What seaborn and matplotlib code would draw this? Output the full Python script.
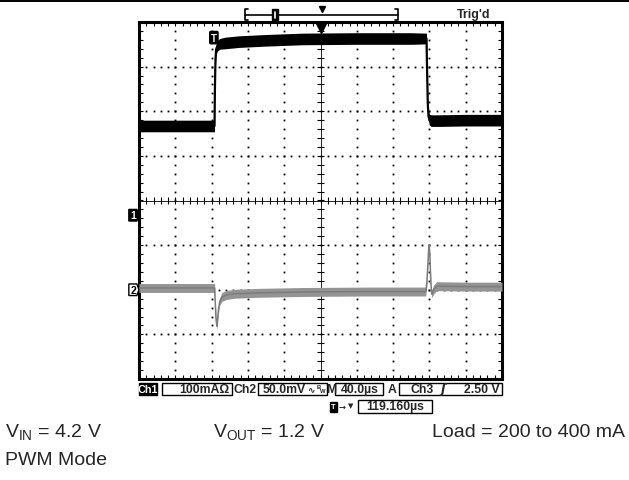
import numpy as np
import matplotlib
matplotlib.use("Agg")
import matplotlib.pyplot as plt
from matplotlib.patches import Rectangle, Polygon
from matplotlib.collections import LineCollection
import seaborn as sns

# ---------------- data ----------------
# Channel 1: load current (mA), 100 mA/div
ch1_time_us = [0, 40, 83.2, 83.7, 84.3, 85.0, 86.5, 89, 95, 110, 140, 180, 240, 300,
               316.8, 317.5, 318.2, 319.0, 320.0, 322, 330, 360, 400]
ch1_mA = [200, 200, 200, 290, 350, 372, 380, 384, 386, 389, 392, 395, 396, 396,
          396, 320, 250, 222, 214, 212, 212, 213, 213]
ch1_spread_mA = [13, 13, 13, 10, 10, 11, 12, 12, 13, 13, 13, 13, 13, 13,
                 12, 10, 10, 11, 12, 13, 13, 13, 13]

# Channel 2: output voltage, AC coupled (mV), 50 mV/div
ch2_time_us = [0, 83.3, 84.0, 84.8, 85.8, 86.6, 87.6, 89.0, 91.5, 96, 105, 130, 180, 250,
               316.0, 317.2, 318.4, 319.2, 319.8, 320.6, 321.6, 322.6, 324.5, 328, 360, 400]
ch2_mV = [2, 2, -14, -32, -41, -33, -22, -13, -8, -6, -4.5, -3.5, -2.5, -2,
          -2, 8, 30, 46, 50, 35, 8, -5, 0, 4, 3.5, 3.5]
ch2_spread_mV = [5, 5, 4, 4, 4, 4, 4, 4, 5, 5, 5, 5, 5, 5,
                 5, 3, 3, 3, 3, 3, 3, 4, 5, 5, 5, 5]

time_per_div_us = 40
ch1_per_div_mA = 100
ch2_per_div_mV = 50
ch1_offset_div = -0.33
ch2_offset_div = -2.0

status_row1 = ["Ch1", "100mA\u03a9", "Ch2", "50.0mV", "M", "40.0\u00b5s", "A", "Ch3", "\u0283", "2.50 V"]
trigger_pos_text = "119.160\u00b5s"
caption_vin = "V$_{\\mathrm{IN}}$ = 4.2 V"
caption_vout = "V$_{\\mathrm{OUT}}$ = 1.2 V"
caption_load = "Load = 200 to 400 mA"
caption_mode = "PWM Mode"

# ---------------- style ----------------
sns.set_theme(style="white")
plt.rcParams['font.family'] = ['Liberation Sans', 'DejaVu Sans']
plt.rcParams['mathtext.fontset'] = 'custom'
plt.rcParams['mathtext.rm'] = 'Liberation Sans'
plt.rcParams['mathtext.it'] = 'Liberation Sans:italic'

W, H = 629, 481
fig = plt.figure(figsize=(W / 100, H / 100), dpi=100)
fig.patch.set_facecolor('white')

L, R, T, B = 139, 502, 23, 380
rect = [L / W, 1 - B / H, (R - L) / W, (B - T) / H]

# graticule axes in divisions
ax = fig.add_axes(rect)
ax.set_xlim(0, 10)
ax.set_ylim(-4, 4)
ax.set_axis_off()

dot_kw = dict(ls='none', marker='s', ms=1.3, mew=0, color='black')
ys_minor = np.arange(-4 + 0.2, 4 - 0.01, 0.2)
xs_minor = np.arange(0.2, 10 - 0.01, 0.2)
for xi in range(1, 10):
    if xi != 5:
        ax.plot(np.full_like(ys_minor, xi), ys_minor, **dot_kw)
for yj in range(-3, 4):
    if yj != 0:
        ax.plot(xs_minor, np.full_like(xs_minor, yj), **dot_kw)

ax.plot([5, 5], [-4, 4], color='black', lw=0.6)
ax.plot([0, 10], [0, 0], color='black', lw=0.6)
segs = []
for y in ys_minor:
    segs.append([(5 - 0.09, y), (5 + 0.09, y)])
    segs.append([(0, y), (0.11, y)])
    segs.append([(10, y), (10 - 0.11, y)])
for x in xs_minor:
    segs.append([(x, -0.07), (x, 0.07)])
    segs.append([(x, 4), (x, 4 - 0.09)])
    segs.append([(x, -4), (x, -4 + 0.09)])
ax.add_collection(LineCollection(segs, colors='black', linewidths=0.8))
ax.add_patch(Rectangle((0, -4), 10, 8, fill=False, ec='black', lw=2.2, clip_on=False))
ax.plot(5, 3.87, marker='v', ms=7, color='black', clip_on=False)

# channel markers
def ch_marker(yc, label, filled):
    pts = [(-0.28, yc + 0.13), (-0.06, yc + 0.13), (0.0, yc), (-0.06, yc - 0.13), (-0.28, yc - 0.13)]
    ax.add_patch(Polygon(pts, closed=True, fc='black' if filled else 'white', ec='black',
                         lw=1.0, clip_on=False, zorder=5))
    ax.text(-0.15, yc, label, color='white' if filled else 'black', fontsize=7.5,
            fontweight='bold', ha='center', va='center', clip_on=False, zorder=6)

ch_marker(ch1_offset_div, "1", True)
ch_marker(ch2_offset_div, "2", False)

# channel 2 axes (mV)
ax2 = fig.add_axes(rect)
ax2.set_xlim(0, 10 * time_per_div_us)
ax2.set_ylim((-4 - ch2_offset_div) * ch2_per_div_mV, (4 - ch2_offset_div) * ch2_per_div_mV)
ax2.set_axis_off()
t2 = np.array(ch2_time_us); v2 = np.array(ch2_mV); s2 = np.array(ch2_spread_mV)
ax2.fill_between(t2, v2 - s2, v2 + s2, color='#949494', lw=0)
sns.lineplot(x=ch2_time_us, y=ch2_mV, ax=ax2, color='#7c7c7c', lw=1.1, sort=False, estimator=None)

# channel 1 axes (mA)
ax1 = fig.add_axes(rect)
ax1.set_xlim(0, 10 * time_per_div_us)
ax1.set_ylim((-4 - ch1_offset_div) * ch1_per_div_mA, (4 - ch1_offset_div) * ch1_per_div_mA)
ax1.set_axis_off()
t1 = np.array(ch1_time_us); v1 = np.array(ch1_mA); s1 = np.array(ch1_spread_mA)
ax1.fill_between(t1, v1 - s1, v1 + s1, color='black', lw=0)
sns.lineplot(x=ch1_time_us, y=ch1_mA, ax=ax1, color='black', lw=1.6, sort=False, estimator=None)
ax1.text(82.5, 398, "T", color='white', fontsize=7, fontweight='bold', ha='center', va='center',
         bbox=dict(boxstyle='round,pad=0.12', fc='black', ec='black'), zorder=6)

# ---------------- overlay in pixel coordinates ----------------
ov = fig.add_axes([0, 0, 1, 1])
ov.set_xlim(0, W)
ov.set_ylim(H, 0)
ov.set_axis_off()

ov.plot([0, W], [2, 2], color='black', lw=1.4)

# record bracket
bk = dict(color='black', lw=1.2)
ov.plot([245, 398], [15.5, 15.5], **bk)
ov.plot([248, 245, 245, 248], [10, 10, 21, 21], **bk)
ov.plot([395, 398, 398, 395], [10, 10, 21, 21], **bk)
ov.add_patch(Rectangle((272, 10), 6, 11, fc='black', ec='black'))
ov.plot([275, 275], [12.5, 18.5], color='white', lw=1.2)
ov.plot(322, 10, marker='v', ms=4.5, color='black')
ov.text(457, 15, "Trig'd", fontsize=9, fontweight='bold', ha='left', va='center')

# status bar row 1
fs = 8.8
r1y0, r1h = 384, 12
r1c = r1y0 + r1h / 2
ov.add_patch(Rectangle((139, r1y0), 18, r1h, fc='black', ec='black'))
ov.text(148, r1c, status_row1[0], color='white', fontsize=7.8, fontweight='bold', ha='center', va='center')
ov.add_patch(Rectangle((162, r1y0), 70, r1h, fill=False, ec='black', lw=1))
ov.text(229, r1c, status_row1[1], fontsize=fs, fontweight='bold', ha='right', va='center')
ov.text(245, r1c, status_row1[2], fontsize=fs, fontweight='bold', ha='center', va='center')
ov.add_patch(Rectangle((258, r1y0), 69, r1h, fill=False, ec='black', lw=1))
ov.text(263, r1c, status_row1[3], fontsize=fs, fontweight='bold', ha='left', va='center')
ov.text(311, r1c, "\u223f", fontsize=6.5, fontweight='bold', ha='center', va='center',
        family=['DejaVu Sans'])
ov.text(318.5, r1c - 2.5, "B", fontsize=4.2, fontweight='bold', ha='center', va='center')
ov.text(322.5, r1c + 2, "W", fontsize=4.2, fontweight='bold', ha='center', va='center')
ov.text(331, r1c, status_row1[4], fontsize=fs, fontweight='bold', ha='center', va='center')
ov.add_patch(Rectangle((335, r1y0), 48, r1h, fill=False, ec='black', lw=1))
ov.text(360, r1c, status_row1[5], fontsize=fs, fontweight='bold', ha='center', va='center')
ov.text(392, r1c, status_row1[6], fontsize=fs, fontweight='bold', ha='center', va='center')
ov.add_patch(Rectangle((399, r1y0), 103, r1h, fill=False, ec='black', lw=1))
ov.text(422, r1c, status_row1[7], fontsize=fs, fontweight='bold', ha='center', va='center')
ov.text(443, r1c, status_row1[8], fontsize=fs, fontweight='bold', ha='center', va='center',
        family=['DejaVu Sans'], style='italic')
ov.text(500, r1c, status_row1[9], fontsize=fs, fontweight='bold', ha='right', va='center')

# status bar row 2
r2y0, r2h = 401, 13
r2c = r2y0 + r2h / 2
ov.add_patch(Rectangle((330, r2y0 + 1.5), 7, 10, fc='black', ec='black'))
ov.text(333.5, r2c, "T", color='white', fontsize=5.5, fontweight='bold', ha='center', va='center')
ov.text(342, r2c, "\u2192", fontsize=6, fontweight='bold', ha='center', va='center', family=['DejaVu Sans'])
ov.text(351, r2c - 1.5, "\u25bc", fontsize=5, ha='center', va='center', family=['DejaVu Sans'])
ov.add_patch(Rectangle((358, r2y0), 74, r2h, fill=False, ec='black', lw=1))
ov.text(395, r2c, trigger_pos_text, fontsize=fs, fontweight='bold', ha='center', va='center')

# captions
cfs = 14
ov.text(5, 437, caption_vin, fontsize=cfs, ha='left', va='baseline')
ov.text(213, 437, caption_vout, fontsize=cfs, ha='left', va='baseline')
ov.text(625, 437, caption_load, fontsize=cfs, ha='right', va='baseline')
ov.text(5, 465, caption_mode, fontsize=cfs, ha='left', va='baseline')

fig.savefig("out.png", dpi=100, facecolor='white')
